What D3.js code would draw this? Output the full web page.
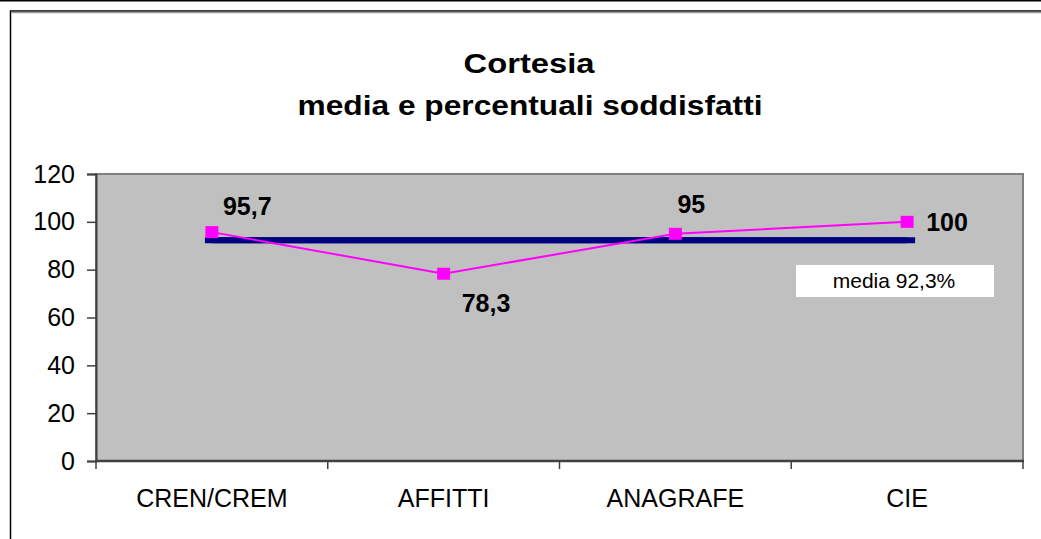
<!DOCTYPE html>
<html lang="it">
<head>
<meta charset="UTF-8">
<title>Cortesia</title>
<script src="https://d3js.org/d3.v7.min.js"></script>
<style>
    body { margin: 0; background: #fff; }
    svg { display: block; font-family: "Liberation Sans", Arial, sans-serif; }
</style>
</head>
<body>
<div id="chart"></div>
<script>
    const categories = ["CREN/CREM", "AFFITTI", "ANAGRAFE", "CIE"];
    const valori = [95.7, 78.3, 95, 100];
    const etichette = ["95,7", "78,3", "95", "100"];
    const media = [92.3, 92.3, 92.3, 92.3];
    const yTicks = [0, 20, 40, 60, 80, 100, 120];

    const width = 1041, height = 539;
    const plot = { left: 96, right: 1023, top: 174, bottom: 461 };

    const svg = d3.select("#chart").append("svg")
        .attr("width", width)
        .attr("height", height);

    // cornice esterna
    svg.append("line").attr("x1", 0).attr("x2", width).attr("y1", 0.75).attr("y2", 0.75)
        .attr("stroke", "#000").attr("stroke-width", 1.5);
    svg.append("path").attr("d", `M10.5,${height} V11 H${width}`)
        .attr("fill", "none").attr("stroke", "#000").attr("stroke-width", 1.5);
    svg.append("line").attr("x1", 11).attr("x2", width).attr("y1", 12.5).attr("y2", 12.5)
        .attr("stroke", "#999").attr("stroke-width", 1.5);

    // titolo
    const title = svg.append("g").attr("font-weight", "bold").attr("font-size", 28)
        .attr("text-anchor", "middle").attr("fill", "#000");
    title.append("text").attr("x", 529).attr("y", 73)
        .attr("textLength", 131).attr("lengthAdjust", "spacingAndGlyphs").text("Cortesia");
    title.append("text").attr("x", 530).attr("y", 115)
        .attr("textLength", 465).attr("lengthAdjust", "spacingAndGlyphs").text("media e percentuali soddisfatti");

    const x = d3.scaleBand().domain(categories).range([plot.left, plot.right]);
    const y = d3.scaleLinear().domain([0, 120]).range([plot.bottom, plot.top]);
    const cx = d => x(d) + x.bandwidth() / 2;

    // area del grafico
    svg.append("rect")
        .attr("x", plot.left).attr("y", plot.top)
        .attr("width", plot.right - plot.left).attr("height", plot.bottom - plot.top)
        .attr("fill", "#c0c0c0").attr("stroke", "#808080").attr("stroke-width", 2);

    // asse y
    const yAxis = svg.append("g")
        .attr("transform", `translate(${plot.left},0)`)
        .call(d3.axisLeft(y).tickValues(yTicks).tickSize(9).tickPadding(12));
    yAxis.select(".domain").attr("stroke", "#404040").attr("stroke-width", 2);
    yAxis.selectAll(".tick line").attr("stroke", "#404040").attr("stroke-width", 1.5);
    yAxis.selectAll(".tick text").attr("font-size", 25).attr("fill", "#000")
        .attr("font-family", "Liberation Sans, Arial, sans-serif");

    // asse x
    svg.append("line").attr("x1", plot.left).attr("x2", plot.right + 1)
        .attr("y1", plot.bottom).attr("y2", plot.bottom)
        .attr("stroke", "#404040").attr("stroke-width", 2.5);
    const bordi = categories.map(c => x(c)).concat([x(categories[categories.length - 1]) + x.bandwidth()]);
    svg.selectAll(".xtick").data(bordi).enter().append("line")
        .attr("x1", d => d).attr("x2", d => d)
        .attr("y1", plot.bottom).attr("y2", plot.bottom + 8)
        .attr("stroke", "#404040").attr("stroke-width", 1.5);
    svg.selectAll(".xlabel").data(categories).enter().append("text")
        .attr("x", d => cx(d)).attr("y", 507)
        .attr("text-anchor", "middle").attr("font-size", 25).attr("fill", "#000")
        .text(d => d);

    // serie media (linea spessa blu)
    const line = d3.line().x((d, i) => cx(categories[i])).y(d => y(d));
    const primo = cx(categories[0]), ultimo = cx(categories[categories.length - 1]);
    svg.append("line")
        .attr("x1", primo - 7).attr("x2", ultimo + 8)
        .attr("y1", y(media[0])).attr("y2", y(media[media.length - 1]))
        .attr("stroke", "#000080").attr("stroke-width", 6);
    svg.append("path").datum(media).attr("d", line)
        .attr("fill", "none").attr("stroke", "#000080").attr("stroke-width", 6);

    // serie valori
    svg.append("path").datum(valori).attr("d", line)
        .attr("fill", "none").attr("stroke", "#ff00ff").attr("stroke-width", 2);
    svg.selectAll(".vmark").data(valori).enter().append("rect")
        .attr("x", (d, i) => cx(categories[i]) - 6.5).attr("y", d => y(d) - 6)
        .attr("width", 13).attr("height", 12).attr("fill", "#ff00ff");

    // etichette dei dati
    const spost = [[11, -17], [18, 38], [2, -21], [19, 9]];
    svg.selectAll(".vlabel").data(valori).enter().append("text")
        .attr("x", (d, i) => cx(categories[i]) + spost[i][0])
        .attr("y", (d, i) => y(d) + spost[i][1])
        .attr("font-size", 25).attr("font-weight", "bold").attr("fill", "#000")
        .text((d, i) => etichette[i]);

    // casella media
    svg.append("rect").attr("x", 796).attr("y", 265).attr("width", 198).attr("height", 32)
        .attr("fill", "#fff");
    svg.append("text").attr("x", 894).attr("y", 288).attr("text-anchor", "middle")
        .attr("font-size", 21).attr("fill", "#000").text("media 92,3%");
</script>
</body>
</html>
